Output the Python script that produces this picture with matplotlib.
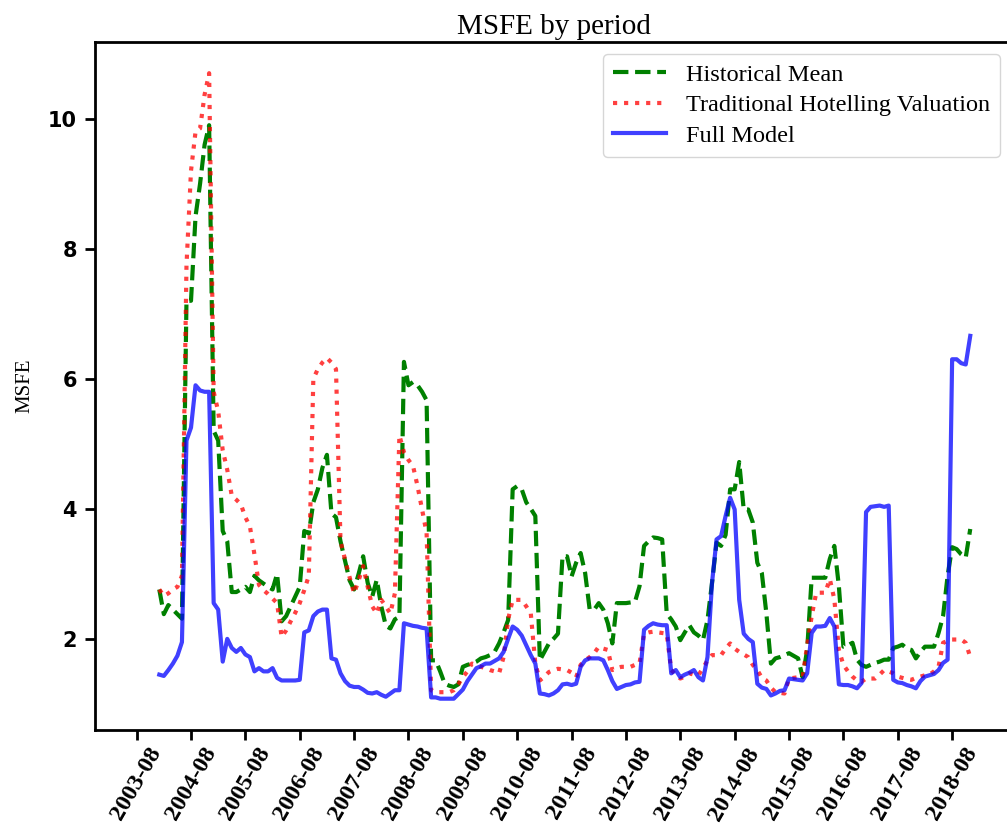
import numpy as np
import pandas as pd
import matplotlib
matplotlib.use('Agg')
import matplotlib.pyplot as plt

# Meses (primeros 5 sin dato)
meses = pd.date_range('2003-08-01', periods=185, freq='MS').strftime('%Y-%m')
nan = np.nan

historical_mean = [
    nan, nan, nan, nan, nan,
    2.76, 2.38, 2.52, 2.45, 2.38, 2.31, 7.2, 7.2, 8.5, 9.0, 9.6, 9.9, 5.2, 5.05, 3.66,
    3.5, 2.72, 2.72, 2.76, 2.8, 2.72, 2.97, 2.9, 2.85, 2.8, 2.76, 3.0, 2.27, 2.35, 2.5,
    2.65, 2.8, 3.66, 3.62, 4.1, 4.3, 4.63, 4.83, 3.93, 3.87, 3.5, 3.2, 2.9, 2.76, 3.0,
    3.27, 2.86, 2.65, 2.91, 2.5, 2.2, 2.16, 2.3, 2.34, 6.26, 5.9, 5.95, 5.9, 5.8, 5.67,
    1.67, 1.67, 1.5, 1.31, 1.28, 1.26, 1.3, 1.57, 1.6, 1.62, 1.65, 1.7, 1.72, 1.75, 1.8,
    1.93, 2.1, 2.29, 4.3, 4.35, 4.3, 4.1, 4.0, 3.89, 1.67, 1.8, 1.93, 2.0, 2.08, 3.27,
    3.27, 2.96, 3.17, 3.32, 3.01, 2.45, 2.45, 2.55, 2.45, 2.24, 1.93, 2.55, 2.55, 2.55, 2.56,
    2.57, 2.81, 3.43, 3.5, 3.56, 3.55, 3.53, 2.39, 2.3, 2.19, 1.98, 2.1, 2.21, 2.1, 2.05,
    1.98, 2.29, 2.86, 3.48, 3.43, 3.6, 4.3, 4.3, 4.72, 3.99, 3.99, 3.79, 3.17, 3.01, 2.39,
    1.62, 1.7, 1.72, 1.75, 1.78, 1.74, 1.7, 1.41, 1.83, 2.94, 2.94, 2.94, 2.94, 3.23, 3.43,
    2.81, 1.88, 1.9, 1.94, 1.68, 1.6, 1.57, 1.6, 1.63, 1.65, 1.68, 1.68, 1.86, 1.88, 1.91,
    1.85, 1.83, 1.7, 1.8, 1.88, 1.88, 1.88, 2.09, 2.35, 2.97, 3.41, 3.38, 3.3, 3.25, 3.69,
]

hotelling = [
    nan, nan, nan, nan, nan,
    2.76, 2.66, 2.7, 2.76, 2.8, 2.97, 7.74, 9.2, 9.8, 9.85, 10.37, 10.7, 5.8, 5.5, 4.9,
    4.6, 4.2, 4.14, 4.07, 3.87, 3.73, 3.3, 2.83, 2.75, 2.69, 2.62, 2.55, 2.03, 2.13, 2.27,
    2.4, 2.55, 2.75, 2.97, 6.0, 6.15, 6.25, 6.32, 6.25, 6.15, 3.5, 3.22, 2.95, 2.7, 2.9,
    3.12, 2.8, 2.5, 2.39, 2.6, 2.5, 2.39, 2.7, 5.13, 4.87, 4.75, 4.66, 4.35, 3.99, 3.63,
    1.21, 1.18, 1.18, 1.18, 1.18, 1.21, 1.3, 1.41, 1.5, 1.62, 1.6, 1.57, 1.55, 1.52, 1.5,
    1.47, 1.72, 2.3, 2.6, 2.6, 2.6, 2.5, 2.39, 1.62, 1.36, 1.42, 1.49, 1.52, 1.54, 1.53,
    1.52, 1.48, 1.41, 1.6, 1.67, 1.72, 1.78, 1.88, 1.85, 1.83, 1.52, 1.55, 1.57, 1.57, 1.57,
    1.6, 1.62, 2.08, 2.1, 2.11, 2.1, 2.09, 2.08, 1.52, 1.45, 1.39, 1.42, 1.47, 1.45, 1.44,
    1.55, 1.67, 1.75, 1.75, 1.75, 1.85, 1.93, 1.85, 1.8, 1.76, 1.72, 1.6, 1.52, 1.4, 1.36,
    1.25, 1.18, 1.17, 1.16, 1.39, 1.4, 1.41, 1.41, 1.9, 2.35, 2.71, 2.71, 2.71, 2.92, 2.61,
    1.83, 1.6, 1.5, 1.42, 1.36, 1.34, 1.39, 1.39, 1.39, 1.45, 1.52, 1.5, 1.47, 1.42, 1.4,
    1.38, 1.37, 1.4, 1.42, 1.44, 1.45, 1.5, 1.57, 1.94, 1.97, 1.99, 1.99, 1.99, 1.94, 1.72,
]

full_model = [
    nan, nan, nan, nan, nan,
    1.45, 1.43, 1.52, 1.62, 1.74, 1.95, 5.05, 5.25, 5.9, 5.82, 5.8, 5.8, 2.55, 2.45, 1.65,
    2.0, 1.86, 1.8, 1.86, 1.76, 1.72, 1.5, 1.55, 1.5, 1.5, 1.55, 1.4, 1.36, 1.36, 1.36,
    1.36, 1.37, 2.1, 2.13, 2.35, 2.42, 2.45, 2.45, 1.7, 1.68, 1.47, 1.35, 1.28, 1.26, 1.26,
    1.22, 1.17, 1.16, 1.18, 1.14, 1.11, 1.16, 1.21, 1.21, 2.24, 2.22, 2.2, 2.19, 2.17, 2.16,
    1.1, 1.1, 1.08, 1.08, 1.08, 1.08, 1.15, 1.22, 1.35, 1.45, 1.55, 1.58, 1.62, 1.62, 1.66,
    1.7, 1.8, 2.0, 2.19, 2.14, 2.05, 1.9, 1.75, 1.62, 1.16, 1.15, 1.13, 1.16, 1.21, 1.3,
    1.31, 1.29, 1.31, 1.57, 1.67, 1.7, 1.7, 1.7, 1.67, 1.52, 1.35, 1.23, 1.26, 1.29, 1.3,
    1.33, 1.34, 2.14, 2.2, 2.24, 2.22, 2.21, 2.21, 1.47, 1.52, 1.41, 1.45, 1.48, 1.52, 1.41,
    1.36, 1.72, 2.86, 3.53, 3.58, 3.89, 4.17, 3.99, 2.6, 2.08, 2.0, 1.95, 1.31, 1.25, 1.23,
    1.13, 1.16, 1.2, 1.21, 1.39, 1.38, 1.37, 1.36, 1.47, 2.09, 2.19, 2.19, 2.2, 2.32, 2.19,
    1.3, 1.29, 1.29, 1.27, 1.24, 1.32, 3.95, 4.03, 4.04, 4.05, 4.03, 4.05, 1.37, 1.33, 1.32,
    1.29, 1.27, 1.24, 1.35, 1.42, 1.44, 1.46, 1.52, 1.63, 1.68, 6.3, 6.3, 6.24, 6.22, 6.66,
]

serif = ['Liberation Serif', 'DejaVu Serif']

x = np.arange(len(meses))

fig = plt.figure(figsize=(10.07, 8.25), dpi=100)
ax = fig.add_axes([0.0943, 0.1152, 0.9106, 0.834])

ax.plot(x, historical_mean, '--', color='green', linewidth=3, label='Historical Mean')
ax.plot(x, hotelling, ':', color='red', alpha=0.75, linewidth=3,
        label='Traditional Hotelling Valuation')
ax.plot(x, full_model, '-', color='blue', alpha=0.75, linewidth=3, label='Full Model')

n = len(meses) - 1
ax.set_xlim(-0.05 * n, 1.05 * n)

ticks = x[::12]
ax.set_xticks(ticks)
ax.set_xticklabels([meses[i] for i in ticks], rotation=60, family=serif,
                   fontsize=17.5, fontweight='bold')

for lbl in ax.get_yticklabels():
    lbl.set_fontweight('bold')
    lbl.set_fontsize(15)
    lbl.set_family('DejaVu Sans')

ax.tick_params(axis='both', width=2, length=7)
ax.tick_params(axis='x', pad=3)
ax.tick_params(axis='y', pad=6)
for s in ax.spines.values():
    s.set_linewidth(2)

ax.set_ylabel('MSFE', family=serif, fontsize=15, labelpad=10)
ax.set_title('MSFE by period', family=serif, fontsize=21)
ax.legend(loc='upper right', prop={'family': serif, 'size': 17.5},
          handlelength=2.2, labelspacing=0.35)

fig.savefig('out.png', dpi=100)
